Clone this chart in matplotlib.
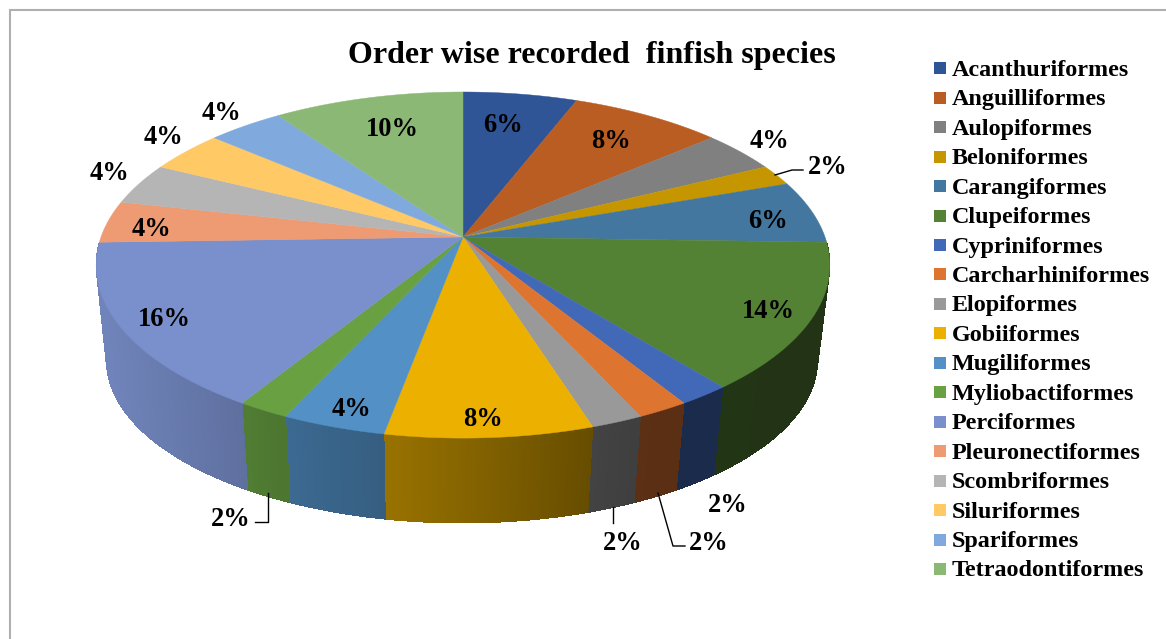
import numpy as np
import matplotlib
matplotlib.use("Agg")
import matplotlib.pyplot as plt
from matplotlib.collections import PolyCollection
from matplotlib.patches import Rectangle

# Chart content
title = "Order wise recorded  finfish species"
orders = ["Acanthuriformes", "Anguilliformes", "Aulopiformes", "Beloniformes",
          "Carangiformes", "Clupeiformes", "Cypriniformes", "Carcharhiniformes",
          "Elopiformes", "Gobiiformes", "Mugiliformes", "Myliobactiformes",
          "Perciformes", "Pleuronectiformes", "Scombriformes", "Siluriformes",
          "Spariformes", "Tetraodontiformes"]
percent = [6, 8, 4, 2, 6, 14, 2, 2, 2, 8, 4, 2, 16, 4, 4, 4, 4, 10]
colors = ["#2F5597", "#B95D22", "#808080", "#C69600", "#44779F", "#548235",
          "#4169B8", "#DD7430", "#999999", "#EBB000", "#5290C6", "#68A042",
          "#7A90CC", "#EE9A72", "#B5B5B5", "#FFC966", "#80AADD", "#8CB876"]

# Styling and layout
W, H = 1166, 639
SERIF = "Liberation Serif"
PERSP = 0.162                       # perspective strength of the tilted disc
TOP = dict(cx=463, cy=237, a=362, b=168.5)
BOTTOM = dict(cx=462, cy=333.6, a=351, b=158.7)
SHADE_X = [100, 240, 290, 385, 590, 640, 830]
SHADE_F = [0.92, 0.78, 0.73, 0.65, 0.44, 0.41, 0.40]
LABEL_XY = [(503, 125), (611, 141), (769, 142), (828, 168), (768, 221), (768, 311),
            (728, 506), (709, 543), (623, 543), (483, 420), (351, 409), (231, 519),
            (164, 319), (151, 229), (109, 173), (163, 137), (221, 113), (392, 129)]
LEADERS = [[(775, 175), (792, 170), (803, 170)],
           [(268, 493), (268, 522), (255, 522)],
           [(613, 507), (613, 523)],
           [(658, 493), (673, 546), (685, 546)]]


def project(theta, r, ring):
    """Map polar pie coordinates (clockwise from 12 o'clock) onto the tilted disc."""
    u, v = r * np.sin(theta), r * np.cos(theta)
    w = 1 + PERSP * v
    return ring["cx"] + ring["a"] * u / w, ring["cy"] - ring["b"] * v / w


fig = plt.figure(figsize=(W / 100, H / 100), dpi=100, facecolor="white")
ax = fig.add_axes([0, 0, 1, 1])
ax.set_xlim(0, W)
ax.set_ylim(H, 0)
ax.axis("off")

# Chart frame, running off the right and bottom edges
ax.plot([9.5, 9.5, W], [H, 10, 10], color="#AFAFAF", lw=1.5, solid_joinstyle="miter")

edges = 2 * np.pi * np.concatenate([[0], np.cumsum(percent)]) / np.sum(percent)

# Outer wall of the pie: an underlay plus thin quads shaded by horizontal position
for i, col in enumerate(colors):
    if np.cos(0.5 * (edges[i] + edges[i + 1])) > -0.05:
        continue
    n = max(4, int(percent[i] * 12))
    th = np.linspace(edges[i], edges[i + 1], n + 1)
    tx, ty = project(th, 1.0, TOP)
    bx, by = project(th, 1.0, BOTTOM)
    base = np.array(matplotlib.colors.to_rgb(col))
    shades = [base * np.interp(0.5 * (tx[j] + tx[j + 1]), SHADE_X, SHADE_F) for j in range(n)]
    ax.fill(np.r_[tx, bx[::-1]], np.r_[ty, by[::-1]], facecolor=shades[n // 2],
            edgecolor="none", zorder=2)
    quads = [[(tx[j], ty[j]), (tx[j + 1], ty[j + 1]), (bx[j + 1], by[j + 1]), (bx[j], by[j])]
             for j in range(n)]
    ax.add_collection(PolyCollection(quads, facecolors=shades, edgecolors="none",
                                     antialiaseds=False, zorder=2.1))

# Top face of the pie
for i, col in enumerate(colors):
    th = np.linspace(edges[i], edges[i + 1], 120)
    x, y = project(th, 1.0, TOP)
    ax.fill(np.r_[TOP["cx"], x], np.r_[TOP["cy"], y], facecolor=col, edgecolor=col,
            linewidth=0.3, zorder=3)

# Leader lines for the labels placed outside the pie
for pts in LEADERS:
    xs, ys = zip(*pts)
    ax.plot(xs, ys, color="black", lw=1.0, zorder=4)

# Percentage labels
for p, (x, y) in zip(percent, LABEL_XY):
    ax.text(x, y, f"{p}%", family=SERIF, weight="bold", fontsize=19.1,
            ha="center", va="center", color="black", zorder=5)

# Title
ax.text(592, 55, title, family=SERIF, weight="bold", fontsize=23,
        ha="center", va="center", color="black", zorder=5)

# Legend
for k, (name, col) in enumerate(zip(orders, colors)):
    y = 68.3 + k * 29.45
    ax.add_patch(Rectangle((934, y - 6), 12, 12, facecolor=col, edgecolor="none", zorder=5))
    ax.text(952, y + 2, name, family=SERIF, weight="bold", fontsize=17.4,
            ha="left", va="center", color="black", zorder=5)

fig.savefig("out.png", dpi=100)
